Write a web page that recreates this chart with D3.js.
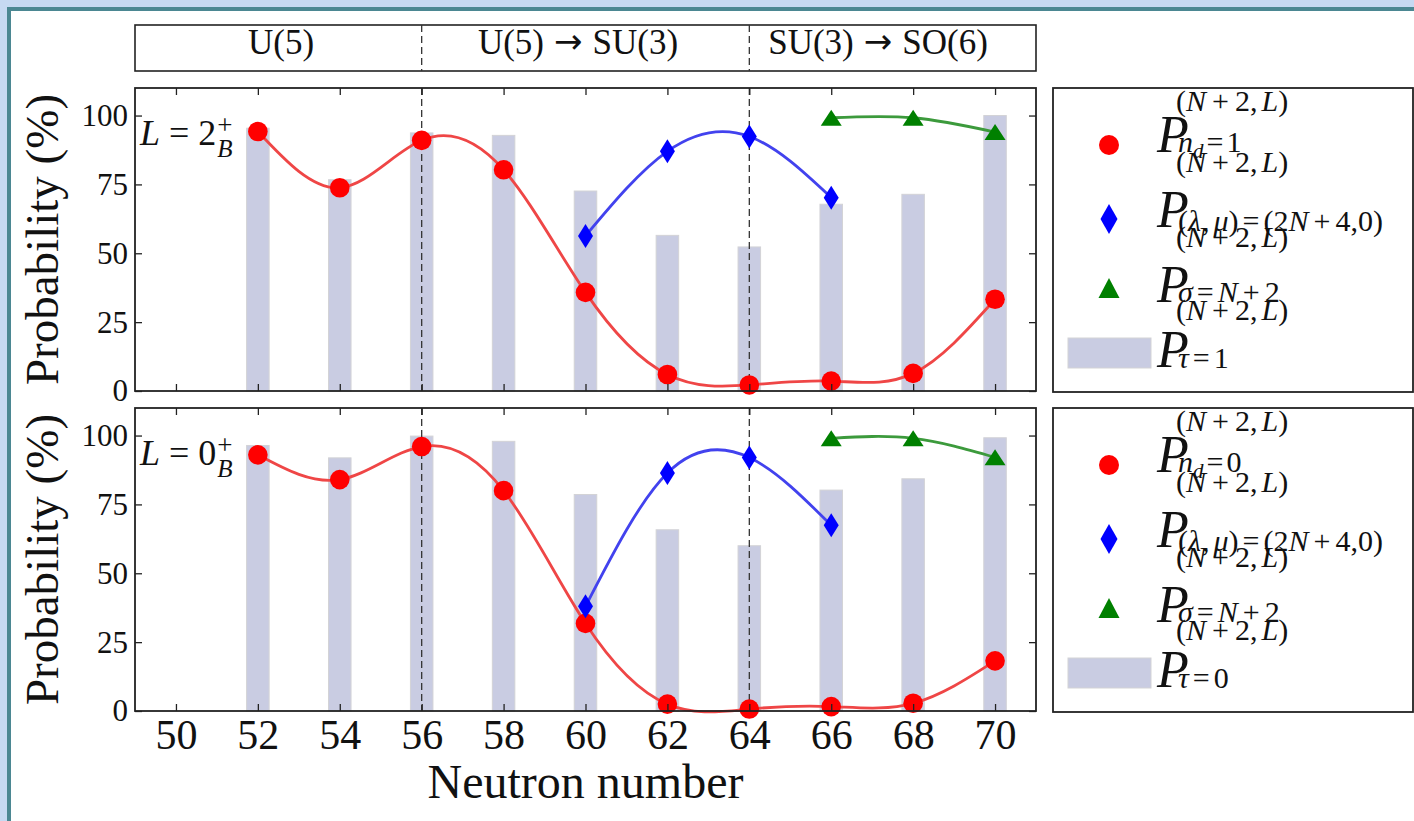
<!DOCTYPE html>
<html><head><meta charset="utf-8">
<script src="https://cdn.jsdelivr.net/npm/d3@7"></script>
<style>
body{margin:0;background:#fff}
svg{display:block}
text{font-family:"Liberation Serif","Times New Roman",serif;fill:#111}
</style>
</head><body>
<svg id="c" width="1414" height="821"></svg>
<script>
// ---------------- data ----------------
const neutron = [52, 54, 56, 58, 60, 62, 64, 66, 68, 70];
const su3N = [60, 62, 64, 66];
const sigmaN = [66, 68, 70];
const xTicks = [50, 52, 54, 56, 58, 60, 62, 64, 66, 68, 70];
const yTicks = [0, 25, 50, 75, 100];
const boundaries = [56, 64];
const regionLabels = [["U(5)"], ["U(5)", "SU(3)"], ["SU(3)", "SO(6)"]];

// L = 2+ (top panel)
const top_nd    = [94.2, 73.8, 91.0, 80.3, 35.8, 6.0, 2.2, 3.6, 6.4, 33.3];
const top_su3   = [56.3, 87.0, 92.4, 70.2];
const top_sigma = [99.2, 99.2, 94.0];
const top_tau   = [95.4, 76.7, 93.7, 92.8, 72.6, 56.5, 52.3, 67.8, 71.4, 100.0];
// L = 0+ (bottom panel)
const bot_nd    = [93.0, 84.0, 96.0, 80.0, 31.8, 2.5, 0.7, 1.6, 2.8, 18.2];
const bot_su3   = [38.0, 86.4, 92.0, 67.4];
const bot_sigma = [99.0, 99.0, 92.1];
const bot_tau   = [96.4, 91.9, 99.8, 97.9, 78.6, 65.8, 60.0, 80.2, 84.3, 99.2];

// ---------------- layout ----------------
const svg = d3.select("#c");
const W = 1414, H = 821;
const X0 = 135, X1 = 1036;
const panels = [
  {y0: 88, y1: 391, nd: top_nd, su3: top_su3, sig: top_sigma, tau: top_tau, Lval: "2", ndv: "1", tauv: "1", labels: false},
  {y0: 408, y1: 711, nd: bot_nd, su3: bot_su3, sig: bot_sigma, tau: bot_tau, Lval: "0", ndv: "0", tauv: "0", labels: true}
];
const C = {red: "#ff0000", redLine: "#ef4646", blue: "#0000ff", blueLine: "#4242ee",
           green: "#008000", greenLine: "#3c9a3c", bar: "#c9cce2", barEdge: "#d3d3d6", ink: "#222"};

// frame
svg.append("rect").attr("width", W).attr("height", H).attr("fill", "#c6d9f2");
svg.append("rect").attr("x", 7).attr("y", 7).attr("width", W).attr("height", H).attr("fill", "#4b8792");
svg.append("rect").attr("x", 11).attr("y", 11).attr("width", W).attr("height", H).attr("fill", "#ffffff");

const x = d3.scaleLinear().domain([49, 71]).range([X0, X1]);

// banner
const bn = svg.append("g");
bn.append("rect").attr("x", X0).attr("y", 25).attr("width", X1 - X0).attr("height", 46)
  .attr("fill", "none").attr("stroke", C.ink).attr("stroke-width", 1.6);
bn.selectAll("line.b").data(boundaries).join("line")
  .attr("x1", d => x(d)).attr("x2", d => x(d)).attr("y1", 25).attr("y2", 71)
  .attr("stroke", "#333").attr("stroke-width", 1.3).attr("stroke-dasharray", "7,4");
const bannerCenters = [281, 578, 878];
regionLabels.forEach((parts, i) => {
  const t = bn.append("text").attr("x", bannerCenters[i]).attr("y", 54)
    .attr("text-anchor", "middle").attr("font-size", 35);
  t.append("tspan").text(parts[0]);
  if (parts.length > 1) {
    t.append("tspan").attr("dx", 10).attr("font-family", "DejaVu Sans").attr("font-size", 34).attr("dy", -1).text("\u2192");
    t.append("tspan").attr("dx", 10).attr("dy", 1).text(parts[1]);
  }
});

// marker shapes
function circle(g, cx, cy, r, fill) {
  g.append("circle").attr("cx", cx).attr("cy", cy).attr("r", r).attr("fill", fill);
}
function diamond(g, cx, cy, hw, hh, fill) {
  g.append("path").attr("d", `M${cx},${cy - hh}L${cx + hw},${cy}L${cx},${cy + hh}L${cx - hw},${cy}Z`).attr("fill", fill);
}
function triangle(g, cx, cy, hw, hh, fill) {
  g.append("path").attr("d", `M${cx},${cy - hh}L${cx + hw},${cy + hh}L${cx - hw},${cy + hh}Z`).attr("fill", fill);
}

panels.forEach(p => {
  const g = svg.append("g");
  const y = d3.scaleLinear().domain([0, 110]).range([p.y1, p.y0]);

  // bars
  g.selectAll("rect.bar").data(neutron).join("rect").attr("class", "bar")
    .attr("x", (d) => x(d - 0.275)).attr("width", x(d3.min(neutron) + 0.275) - x(d3.min(neutron) - 0.275))
    .attr("y", (d, i) => y(p.tau[i])).attr("height", (d, i) => y(0) - y(p.tau[i]))
    .attr("fill", C.bar).attr("stroke", C.barEdge).attr("stroke-width", 1);

  // dashed boundaries
  g.selectAll("line.b").data(boundaries).join("line")
    .attr("x1", d => x(d)).attr("x2", d => x(d)).attr("y1", p.y0).attr("y2", p.y1)
    .attr("stroke", "#333").attr("stroke-width", 1.3).attr("stroke-dasharray", "7,4");

  const line = d3.line().x(d => x(d[0])).y(d => y(d[1])).curve(d3.curveNatural);
  const ndPts = neutron.map((n, i) => [n, p.nd[i]]);
  const suPts = su3N.map((n, i) => [n, p.su3[i]]);
  const sgPts = sigmaN.map((n, i) => [n, p.sig[i]]);
  g.append("path").attr("d", line(ndPts)).attr("fill", "none").attr("stroke", C.redLine).attr("stroke-width", 2.8);
  g.append("path").attr("d", line(suPts)).attr("fill", "none").attr("stroke", C.blueLine).attr("stroke-width", 2.8);
  g.append("path").attr("d", line(sgPts)).attr("fill", "none").attr("stroke", C.greenLine).attr("stroke-width", 2.8);

  ndPts.forEach(d => circle(g, x(d[0]), y(d[1]), 9.8, C.red));
  suPts.forEach(d => diamond(g, x(d[0]), y(d[1]), 7.5, 12, C.blue));
  sgPts.forEach(d => triangle(g, x(d[0]), y(d[1]), 10.5, 8, C.green));

  // axes (ticks inward on all sides)
  const yAx = g.append("g").attr("transform", `translate(${X0},0)`)
    .call(d3.axisLeft(y).tickValues(yTicks).tickSizeInner(-7).tickSizeOuter(0).tickPadding(7));
  yAx.selectAll("text").attr("font-size", 31).attr("font-family", "Liberation Serif").attr("fill", "#111");
  g.append("g").attr("transform", `translate(${X1},0)`)
    .call(d3.axisRight(y).tickValues(yTicks).tickSizeInner(-7).tickSizeOuter(0).tickFormat(""));
  g.append("g").attr("transform", `translate(0,${p.y0})`)
    .call(d3.axisTop(x).tickValues(xTicks).tickSizeInner(-7).tickSizeOuter(0).tickFormat(""));
  const xAx = g.append("g").attr("transform", `translate(0,${p.y1})`)
    .call(d3.axisBottom(x).tickValues(xTicks).tickSizeInner(-7).tickSizeOuter(0).tickPadding(8)
      .tickFormat(p.labels ? d3.format("d") : ""));
  xAx.selectAll("text").attr("font-size", 42).attr("font-family", "Liberation Serif").attr("fill", "#111");
  g.selectAll(".domain").remove();
  g.selectAll(".tick line").attr("stroke", C.ink).attr("stroke-width", 1.3);

  g.append("rect").attr("x", X0).attr("y", p.y0).attr("width", X1 - X0).attr("height", p.y1 - p.y0)
    .attr("fill", "none").attr("stroke", C.ink).attr("stroke-width", 1.8);

  // y label
  g.append("text").attr("transform", `translate(58,${(p.y0 + p.y1) / 2}) rotate(-90)`)
    .attr("text-anchor", "middle").attr("font-size", 47).text("Probability (%)");

  // L label
  const lt = g.append("text").attr("x", 140).attr("y", p.y0 + 57).attr("font-size", 36);
  lt.append("tspan").attr("font-style", "italic").text("L");
  lt.append("tspan").attr("dx", 9).text("=");
  lt.append("tspan").attr("dx", 9).text(p.Lval);
  const lw = lt.node().getComputedTextLength() + 18;
  g.append("text").attr("x", 140 + lw + 1).attr("y", p.y0 + 46).attr("font-size", 27).text("+");
  g.append("text").attr("x", 140 + lw + 1).attr("y", p.y0 + 69).attr("font-size", 25).attr("font-style", "italic").text("B");

  // legend
  const lg = svg.append("g");
  const LX0 = 1053, LX1 = 1413;
  lg.append("rect").attr("x", LX0).attr("y", p.y0).attr("width", LX1 - LX0).attr("height", p.y1 - p.y0 + 1)
    .attr("fill", "#fff").attr("stroke", C.ink).attr("stroke-width", 1.8);
  const mx = 1109;
  circle(lg, mx, p.y0 + 57, 10, C.red);
  diamond(lg, mx, p.y0 + 131, 8.5, 15, C.blue);
  triangle(lg, mx, p.y0 + 200, 10.5, 10, C.green);
  lg.append("rect").attr("x", 1068).attr("y", p.y0 + 250).attr("width", 83).attr("height", 30)
    .attr("fill", C.bar).attr("stroke", C.barEdge);

  const sup = [["("], ["N", 1], ["+", 0, 6], ["2", 0, 6], [","], ["L", 1, 4], [")"]];
  const subs = [
    [["n", 1], ["d", 1, 0, 6, 21], ["=", 0, 3, -6], [p.ndv, 0, 3]],
    [["("], ["\u03bb", 1], [",", 0, 1], ["\u03bc", 1, 4], [")"], ["=", 0, 4], ["(2", 0, 4], ["N", 1], ["+", 0, 5], ["4,0)", 0, 5]],
    [["\u03c3", 1], ["=", 0, 4], ["N", 1, 4], ["+", 0, 5], ["2", 0, 5]],
    [["\u03c4", 1], ["=", 0, 4], [p.tauv, 0, 4]]
  ];
  const rows = [
    {P: 64, sup: 23, sub: 64},
    {P: 139, sup: 84, sub: 143},
    {P: 214, sup: 159, sub: 214},
    {P: 279, sup: 232, sub: 280}
  ];
  function parts(t, arr) {
    arr.forEach(a => {
      const ts = t.append("tspan").text(a[0]);
      if (a[1]) ts.attr("font-style", "italic");
      if (a[2]) ts.attr("dx", a[2]);
      if (a[3]) ts.attr("dy", a[3]);
      if (a[4]) ts.attr("font-size", a[4]);
    });
  }
  rows.forEach((r, i) => {
    lg.append("text").attr("x", 1157).attr("y", p.y0 + r.P).attr("font-size", 52).attr("font-style", "italic").text("P");
    parts(lg.append("text").attr("x", 1176).attr("y", p.y0 + r.sup).attr("font-size", 30), sup);
    parts(lg.append("text").attr("x", 1178).attr("y", p.y0 + r.sub).attr("font-size", 30), subs[i]);
  });
});

// x label
svg.append("text").attr("x", (X0 + X1) / 2).attr("y", 798).attr("text-anchor", "middle")
  .attr("font-size", 48).text("Neutron number");
</script>
</body></html>
